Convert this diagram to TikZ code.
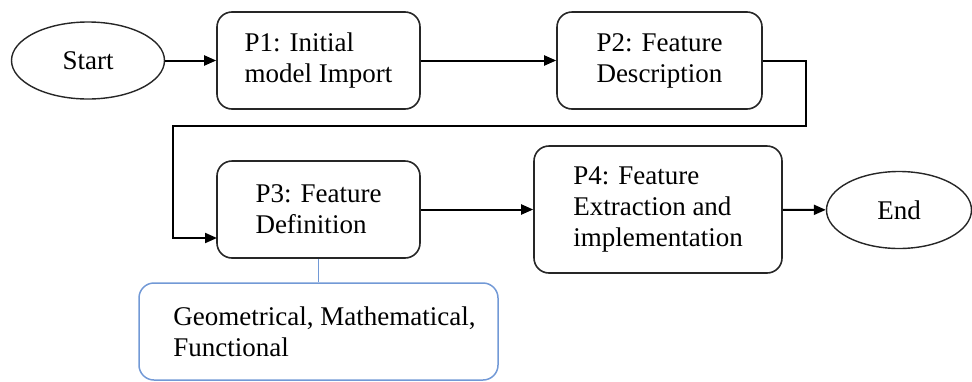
\documentclass[tikz,border=0pt]{standalone}
\usepackage{fontspec}
\newfontfamily\tnr{Liberation Serif}
\usetikzlibrary{arrows.meta,shapes.geometric}
\definecolor{bluebox}{RGB}{114,153,214}
\tikzset{
  txt/.style={font=\tnr\fontsize{27}{31}\selectfont},
  proc/.style={txt, draw=black!85, line width=1.6pt, rounded corners=15pt, align=left, inner sep=0pt},
  term/.style={txt, draw=black!85, line width=1.4pt, ellipse, inner sep=0pt},
  conn/.style={draw=black, line width=2pt},
  arr/.style={conn, -{Triangle[length=12pt,width=10pt]}},
  note/.style={txt, draw=bluebox, line width=1.5pt, rounded corners=15pt, align=left, inner sep=0pt}
}
\begin{document}
\begin{tikzpicture}[x=1pt,y=-1pt]
\useasboundingbox (0,0) rectangle (972,381);
\node[term, minimum width=153pt, minimum height=77pt] (start) at (88,60.5) {Start};
\node[proc, minimum width=203pt, minimum height=97pt] (p1) at (318.5,60.5) {P1: Initial\\model Import};
\node[proc, minimum width=205pt, minimum height=97pt] (p2) at (659.5,60.5) {P2: Feature\\Description};
\node[proc, minimum width=203pt, minimum height=97pt] (p3) at (318.5,209.5) {P3: Feature\\Definition};
\node[proc, minimum width=248pt, minimum height=127pt] (p4) at (658,209.5) {P4: Feature\\Extraction and\\implementation};
\node[term, minimum width=145pt, minimum height=77pt] (end) at (899,210) {End};
\node[note, minimum width=359pt, minimum height=97pt] (geo) at (318.5,331.5) {\hspace*{12pt}Geometrical, Mathematical,\\\hspace*{12pt}Functional};
\coordinate (r) at (806,126);
\coordinate (l) at (173,126);
\coordinate (p3in) at (217,238);
\draw[arr] (start) -- (p1);
\draw[arr] (p1) -- (p2);
\draw[arr] (p2.east) -| (r) -- (l) |- (p3in);
\draw[arr] (p3) -- (p4);
\draw[arr] (p4) -- (end);
\draw[draw=bluebox, line width=1.5pt] (p3.south) -- (geo.north);
\end{tikzpicture}
\end{document}
